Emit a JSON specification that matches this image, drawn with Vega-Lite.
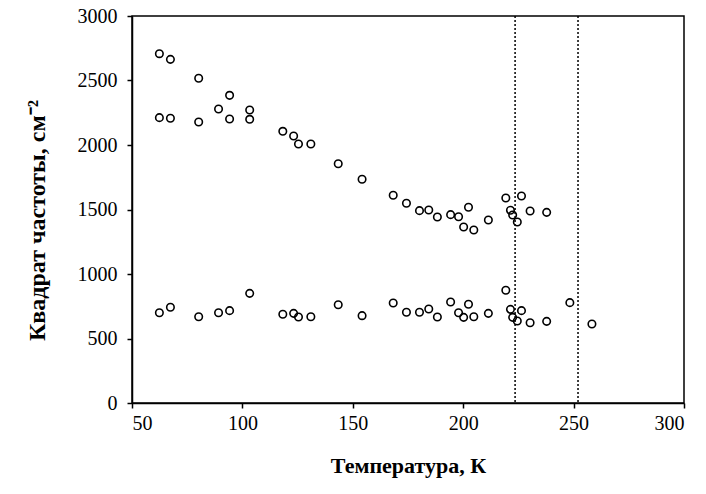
{
  "$schema": "https://vega.github.io/schema/vega-lite/v6.json",
  "width": 552,
  "height": 387,
  "autosize": {"type": "none"},
  "padding": {"left": 132, "top": 16, "right": 22, "bottom": 91},
  "background": "white",
  "config": {
    "view": {"stroke": "black", "strokeWidth": 1.5},
    "axis": {
      "grid": false,
      "domainColor": "black",
      "domainWidth": 1.5,
      "tickColor": "black",
      "tickWidth": 1.5,
      "tickSize": 5,
      "labelColor": "black",
      "labelFont": "Liberation Serif",
      "labelFontSize": 20,
      "format": "d",
      "titleColor": "black",
      "titleFont": "Liberation Serif",
      "titleFontSize": 22,
      "titleFontWeight": "bold"
    }
  },
  "datasets": {
    "points": [
      {"T": 62.4, "nu2": 2708}, {"T": 67.4, "nu2": 2664}, {"T": 80.2, "nu2": 2517},
      {"T": 94.2, "nu2": 2385}, {"T": 89.2, "nu2": 2279}, {"T": 103.3, "nu2": 2271},
      {"T": 62.4, "nu2": 2212}, {"T": 67.4, "nu2": 2207}, {"T": 80.2, "nu2": 2178},
      {"T": 94.2, "nu2": 2202}, {"T": 103.3, "nu2": 2199}, {"T": 118.3, "nu2": 2106},
      {"T": 123.2, "nu2": 2070}, {"T": 125.4, "nu2": 2008}, {"T": 131.0, "nu2": 2008},
      {"T": 143.4, "nu2": 1855}, {"T": 154.2, "nu2": 1734}, {"T": 168.3, "nu2": 1610},
      {"T": 174.3, "nu2": 1548}, {"T": 180.2, "nu2": 1491}, {"T": 184.4, "nu2": 1496},
      {"T": 188.3, "nu2": 1442}, {"T": 194.3, "nu2": 1460}, {"T": 197.9, "nu2": 1444},
      {"T": 202.4, "nu2": 1517}, {"T": 200.2, "nu2": 1364}, {"T": 204.8, "nu2": 1341},
      {"T": 211.4, "nu2": 1419}, {"T": 219.3, "nu2": 1589}, {"T": 221.4, "nu2": 1494},
      {"T": 222.4, "nu2": 1457}, {"T": 224.5, "nu2": 1403}, {"T": 226.4, "nu2": 1605},
      {"T": 230.3, "nu2": 1488}, {"T": 237.8, "nu2": 1478},
      {"T": 62.4, "nu2": 700}, {"T": 67.4, "nu2": 742}, {"T": 80.2, "nu2": 669},
      {"T": 89.2, "nu2": 700}, {"T": 94.2, "nu2": 716}, {"T": 103.3, "nu2": 850},
      {"T": 118.3, "nu2": 688}, {"T": 123.2, "nu2": 695}, {"T": 125.4, "nu2": 667},
      {"T": 131.0, "nu2": 669}, {"T": 143.4, "nu2": 762}, {"T": 154.2, "nu2": 677},
      {"T": 168.3, "nu2": 775}, {"T": 174.3, "nu2": 703}, {"T": 180.2, "nu2": 703},
      {"T": 184.4, "nu2": 729}, {"T": 188.3, "nu2": 667}, {"T": 194.3, "nu2": 783},
      {"T": 197.9, "nu2": 700}, {"T": 202.4, "nu2": 765}, {"T": 200.2, "nu2": 664},
      {"T": 204.8, "nu2": 669}, {"T": 211.4, "nu2": 695}, {"T": 219.3, "nu2": 874},
      {"T": 221.4, "nu2": 726}, {"T": 222.4, "nu2": 664}, {"T": 224.5, "nu2": 636},
      {"T": 226.4, "nu2": 716}, {"T": 230.3, "nu2": 622}, {"T": 237.8, "nu2": 633},
      {"T": 248.3, "nu2": 778}, {"T": 258.3, "nu2": 612}
    ],
    "transitions": [{"T": 223.5}, {"T": 252}]
  },
  "layer": [
    {
      "data": {"name": "transitions"},
      "mark": {"type": "rule", "color": "black", "strokeWidth": 1.5, "strokeDash": [2, 2]},
      "encoding": {
        "x": {"field": "T", "type": "quantitative", "scale": {"domain": [50, 300], "nice": false}}
      }
    },
    {
      "data": {"name": "points"},
      "mark": {"type": "point", "shape": "circle", "filled": false, "color": "black", "size": 56, "strokeWidth": 1.6, "opacity": 1},
      "encoding": {
        "x": {
          "field": "T",
          "type": "quantitative",
          "scale": {"domain": [50, 300], "nice": false},
          "axis": {
            "title": "Температура, К",
            "values": [50, 100, 150, 200, 250, 300],
            "labelPadding": 5,
            "titlePadding": 22
          }
        },
        "y": {
          "field": "nu2",
          "type": "quantitative",
          "scale": {"domain": [0, 3000], "nice": false},
          "axis": {
            "title": "Квадрат частоты, см⁻²",
            "titleFontSize": 24,
            "titleY": 204,
            "values": [0, 500, 1000, 1500, 2000, 2500, 3000],
            "labelPadding": 10,
            "titlePadding": 28
          }
        }
      }
    }
  ]
}
